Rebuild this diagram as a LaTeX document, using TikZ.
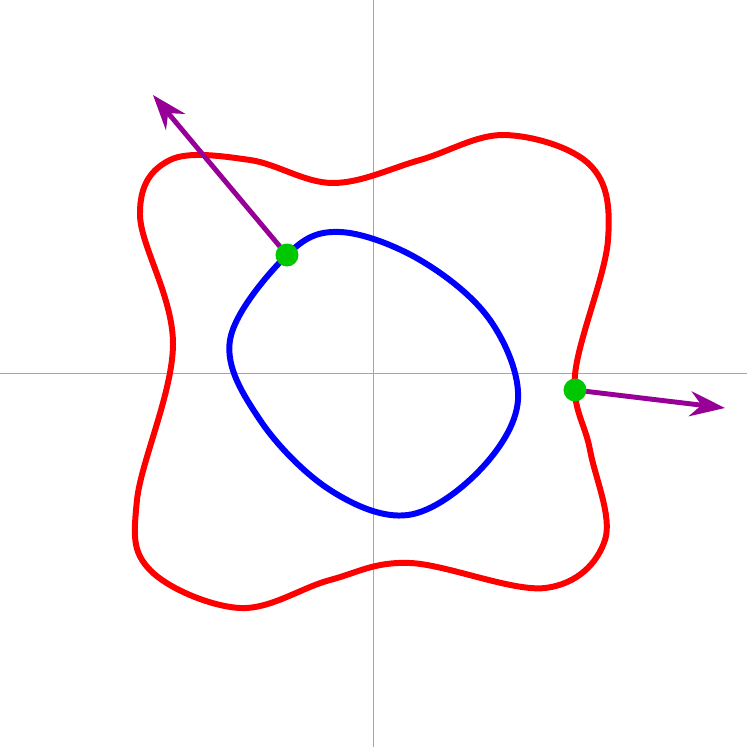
\documentclass[tikz,border=0pt]{standalone}
\usetikzlibrary{arrows.meta}
\definecolor{vecpurple}{RGB}{150,0,150}
\definecolor{dotgreen}{RGB}{0,200,0}
\tikzset{
	curve/.style={line width=1.7pt,line join=round},
	point/.style={circle,fill=dotgreen,inner sep=0pt,minimum size=0.23cm},
	vec/.style={vecpurple,line width=1.4pt,-{Stealth[length=0.35cm,width=0.25cm]}}
}
\begin{document}
\begin{tikzpicture}
	\useasboundingbox (-3.73,-3.74) rectangle (3.74,3.73);
	% axes
	\draw[gray!70,very thin] (-3.73,0) -- (3.74,0);
	\draw[gray!70,very thin] (0,-3.74) -- (0,3.73);
	% outer curve
	\draw[curve,red] plot[smooth cycle,tension=0.6] coordinates {
		(-0.40,1.90) (0.47,2.13) (1.32,2.38) (2.17,2.08) (2.35,1.33)
		(2.02,-0.02) (2.17,-0.77) (2.32,-1.67) (1.72,-2.15) (0.37,-1.90)
		(-0.43,-2.07) (-1.33,-2.35) (-2.23,-1.97) (-2.36,-1.27) (-2.00,0.28)
		(-2.33,1.58) (-2.03,2.13) (-1.23,2.13)};
	% inner curve
	\draw[curve,blue] plot[smooth cycle,tension=0.6] coordinates {
		(-0.33,1.41) (-0.86,1.18) (-1.43,0.33) (-1.13,-0.47) (-0.43,-1.17)
		(0.35,-1.42) (1.07,-0.97) (1.45,-0.27) (1.17,0.53) (0.47,1.13)};
	% vectors
	\coordinate (tipA) at (-2.20,2.78);
	\coordinate (tipB) at (3.52,-0.35);
	\draw[vec] (-0.86,1.18) -- (tipA);
	\draw[vec] (2.02,-0.17) -- (tipB);
	\node[point] (pA) at (-0.86,1.18) {};
	\node[point] (pB) at (2.02,-0.17) {};
\end{tikzpicture}
\end{document}
